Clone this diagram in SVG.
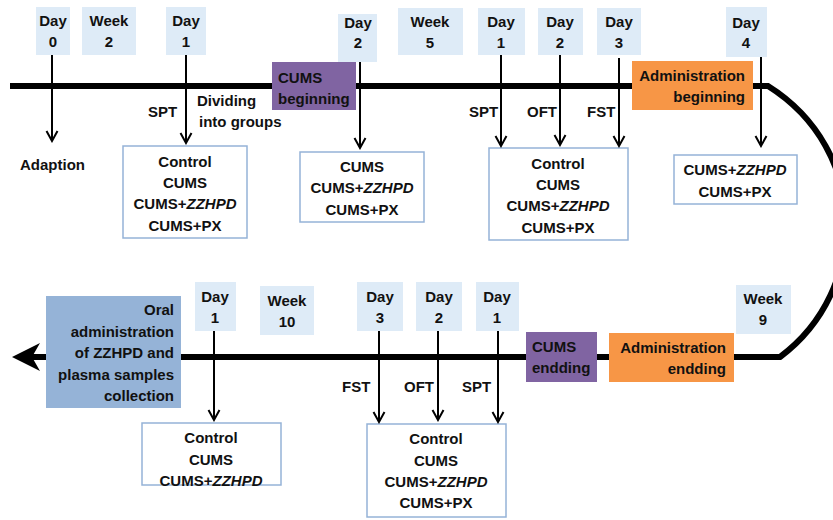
<svg xmlns="http://www.w3.org/2000/svg" width="833" height="520" viewBox="0 0 833 520">
<style>
text{font-family:"Liberation Sans",Arial,sans-serif;font-size:15px;font-weight:bold;fill:#111}
.c{text-anchor:middle}
.e{text-anchor:end}
.day{fill:#deebf7}
.grp{fill:#fff;stroke:#95b3d7;stroke-width:1.5}
.cums{fill:#8064a2}
.adm{fill:#f79646}
.oral{fill:#95b3d7}
.arr{stroke:#000;stroke-width:2;fill:none;marker-end:url(#ah)}
i,.it{font-style:italic}
</style>
<defs>
<marker id="ah" markerUnits="userSpaceOnUse" viewBox="-1 -7 13 14" markerWidth="13" markerHeight="14" refX="10" refY="0" orient="auto">
<path d="M0,-5.5 L10,0 L0,5.5" fill="none" stroke="#000" stroke-width="2"/>
</marker>
</defs>
<rect width="833" height="520" fill="#fff"/>
<g id="timeline">
<path d="M10,86 H768 C870,150 870,290 780,357 H30" fill="none" stroke="#000" stroke-width="6" stroke-linejoin="miter"/>
<polygon points="12,357 40,343 32,357 40,371" fill="#000"/>
</g>
<g id="d0"><rect class="day" x="36" y="7" width="34" height="48"/><text class="c" x="53" y="26">Day</text><text class="c" x="53" y="47">0</text></g>
<g id="w2"><rect class="day" x="82" y="7" width="54" height="48"/><text class="c" x="109" y="26">Week</text><text class="c" x="109" y="47">2</text></g>
<g id="d1a"><rect class="day" x="166" y="7" width="40" height="48"/><text class="c" x="186" y="26">Day</text><text class="c" x="186" y="47">1</text></g>
<g id="d2a"><rect class="day" x="338" y="14" width="39" height="48"/><text class="c" x="358" y="28">Day</text><text class="c" x="358" y="48">2</text></g>
<g id="w5"><rect class="day" x="398" y="8" width="65" height="47"/><text class="c" x="430" y="27">Week</text><text class="c" x="430" y="48">5</text></g>
<g id="d1b"><rect class="day" x="478" y="8" width="47" height="47"/><text class="c" x="501" y="27">Day</text><text class="c" x="501" y="48">1</text></g>
<g id="d2b"><rect class="day" x="538" y="8" width="45" height="47"/><text class="c" x="560" y="27">Day</text><text class="c" x="560" y="48">2</text></g>
<g id="d3b"><rect class="day" x="597" y="8" width="44" height="47"/><text class="c" x="619" y="27">Day</text><text class="c" x="619" y="48">3</text></g>
<g id="d4b"><rect class="day" x="726" y="7" width="41" height="50"/><text class="c" x="746" y="28">Day</text><text class="c" x="746" y="48">4</text></g>
<g id="cumsBegin"><rect class="cums" x="272" y="62" width="84" height="48"/><text x="278" y="83">CUMS</text><text x="278" y="104">beginning</text></g>
<g id="admBegin"><rect class="adm" x="632" y="61" width="121" height="49"/><text class="e" x="745" y="81">Administration</text><text class="e" x="745" y="102">beginning</text></g>
<g id="adaption"><text x="20" y="170">Adaption</text></g>
<g id="labelsTop">
<text x="148" y="117">SPT</text>
<text x="197" y="106">Dividing</text>
<text x="199" y="127">into groups</text>
<text x="469" y="117">SPT</text>
<text x="527" y="117">OFT</text>
<text x="587" y="117">FST</text>
</g>
<g id="g1"><rect class="grp" x="123" y="146" width="124" height="92"/>
<text class="c" x="185" y="167">Control</text><text class="c" x="185" y="188">CUMS</text><text class="c" x="185" y="209">CUMS+<tspan class="it">ZZHPD</tspan></text><text class="c" x="185" y="231">CUMS+PX</text></g>
<g id="g2"><rect class="grp" x="300" y="152" width="124" height="70"/>
<text class="c" x="362" y="172">CUMS</text><text class="c" x="362" y="193">CUMS+<tspan class="it">ZZHPD</tspan></text><text class="c" x="362" y="215">CUMS+PX</text></g>
<g id="g3"><rect class="grp" x="489" y="148" width="139" height="92"/>
<text class="c" x="558" y="169">Control</text><text class="c" x="558" y="190">CUMS</text><text class="c" x="558" y="211">CUMS+<tspan class="it">ZZHPD</tspan></text><text class="c" x="558" y="233">CUMS+PX</text></g>
<g id="g4"><rect class="grp" x="674" y="155" width="123" height="49"/>
<text class="c" x="735" y="175">CUMS+<tspan class="it">ZZHPD</tspan></text><text class="c" x="735" y="197">CUMS+PX</text></g>
<g id="oral"><rect class="oral" x="46" y="296" width="135" height="112"/>
<text class="e" x="174" y="315">Oral</text><text class="e" x="174" y="337">administration</text><text class="e" x="174" y="358">of ZZHPD and</text><text class="e" x="174" y="380">plasma samples</text><text class="e" x="174" y="401">collection</text></g>
<g id="d1c"><rect class="day" x="195" y="282" width="41" height="49"/><text class="c" x="215" y="302">Day</text><text class="c" x="215" y="323">1</text></g>
<g id="w10"><rect class="day" x="260" y="286" width="54" height="49"/><text class="c" x="287" y="306">Week</text><text class="c" x="287" y="327">10</text></g>
<g id="d3c"><rect class="day" x="357" y="282" width="46" height="49"/><text class="c" x="380" y="302">Day</text><text class="c" x="380" y="323">3</text></g>
<g id="d2c"><rect class="day" x="416" y="282" width="46" height="49"/><text class="c" x="439" y="302">Day</text><text class="c" x="439" y="323">2</text></g>
<g id="d1d"><rect class="day" x="476" y="282" width="43" height="49"/><text class="c" x="497" y="302">Day</text><text class="c" x="497" y="323">1</text></g>
<g id="w9"><rect class="day" x="736" y="285" width="55" height="49"/><text class="c" x="763" y="304">Week</text><text class="c" x="763" y="325">9</text></g>
<g id="cumsEnd"><rect class="cums" x="526" y="332" width="71" height="50"/><text x="532" y="352">CUMS</text><text x="532" y="373">endding</text></g>
<g id="admEnd"><rect class="adm" x="609" y="333" width="125" height="49"/><text class="e" x="726" y="353">Administration</text><text class="e" x="726" y="374">endding</text></g>
<g id="labelsBottom">
<text x="342" y="392">FST</text>
<text x="404" y="392">OFT</text>
<text x="462" y="392">SPT</text>
</g>
<g id="g5"><rect class="grp" x="142" y="423" width="139" height="62"/>
<text class="c" x="211" y="443">Control</text><text class="c" x="211" y="465">CUMS</text><text class="c" x="211" y="486">CUMS+<tspan class="it">ZZHPD</tspan></text></g>
<g id="g6"><rect class="grp" x="367" y="424" width="139" height="93"/>
<text class="c" x="436" y="444">Control</text><text class="c" x="436" y="466">CUMS</text><text class="c" x="436" y="487">CUMS+<tspan class="it">ZZHPD</tspan></text><text class="c" x="436" y="508">CUMS+PX</text></g>
<g id="connectors">
<line class="arr" x1="52" y1="55" x2="52" y2="141"/>
<line class="arr" x1="186" y1="55" x2="186" y2="143"/>
<line class="arr" x1="360" y1="62" x2="360" y2="148"/>
<line class="arr" x1="501" y1="55" x2="501" y2="146"/>
<line class="arr" x1="560" y1="55" x2="560" y2="145"/>
<line class="arr" x1="619" y1="58" x2="619" y2="146"/>
<line class="arr" x1="761" y1="57" x2="761" y2="146"/>
<line class="arr" x1="214" y1="331" x2="214" y2="420"/>
<line class="arr" x1="379" y1="331" x2="379" y2="422"/>
<line class="arr" x1="438" y1="331" x2="438" y2="420"/>
<line class="arr" x1="498" y1="331" x2="498" y2="422"/>
</g>
</svg>
